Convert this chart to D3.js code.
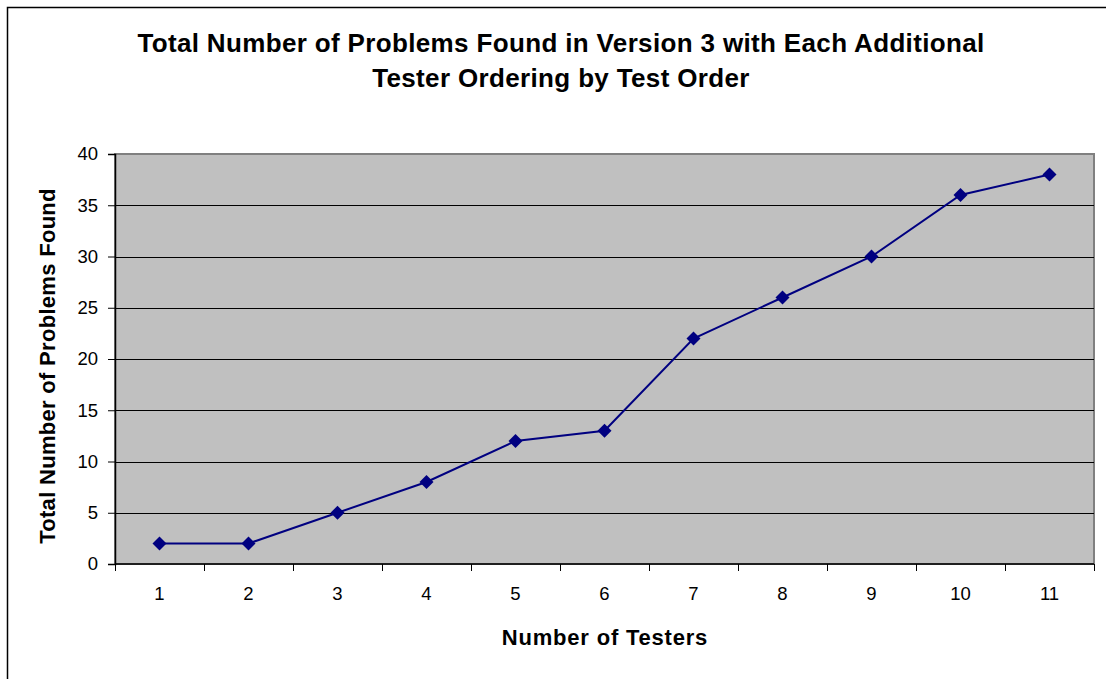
<!DOCTYPE html>
<html>
<head>
<meta charset="utf-8">
<script src="https://cdn.jsdelivr.net/npm/d3@7"></script>
<style>
  body { margin: 0; background: #fff; }
  svg { display: block; font-family: "Liberation Sans", Arial, sans-serif; }
</style>
</head>
<body>
<div class="chart"></div>
<script>
// Data
const testers = [1, 2, 3, 4, 5, 6, 7, 8, 9, 10, 11];
const problemsFound = [2, 2, 5, 8, 12, 13, 22, 26, 30, 36, 38];
const yTicks = [0, 5, 10, 15, 20, 25, 30, 35, 40];
const titleLines = ["Total Number of Problems Found in Version 3 with Each Additional", "Tester Ordering by Test Order"];

const width = 1106;
const height = 679;
const plot = {left: 115, right: 1094, top: 154, bottom: 564};

const data = testers.map((t, i) => ({tester: t, found: problemsFound[i]}));

const svg = d3.select(".chart")
  .append("svg")
    .attr("width", width)
    .attr("height", height);

// Outer chart border (right and bottom sides fall outside the picture)
svg.append("rect")
  .attr("x", 7.5)
  .attr("y", 7.5)
  .attr("width", width + 10)
  .attr("height", height + 10)
  .attr("fill", "#fff")
  .attr("stroke", "#000")
  .attr("stroke-width", 1.5);

// Scales
const x = d3.scaleBand()
  .domain(testers)
  .range([plot.left, plot.right])
  .padding(0);

const y = d3.scaleLinear()
  .domain([0, 40])
  .range([plot.bottom, plot.top]);

// Plot background
svg.append("rect")
  .attr("x", plot.left)
  .attr("y", plot.top)
  .attr("width", plot.right - plot.left)
  .attr("height", plot.bottom - plot.top)
  .attr("fill", "#c0c0c0")
  .attr("stroke", "#808080")
  .attr("stroke-width", 2);

// Horizontal gridlines
svg.append("g")
  .selectAll("line")
  .data(yTicks.filter(d => d > 0 && d < 40))
  .enter()
  .append("line")
    .attr("x1", plot.left)
    .attr("x2", plot.right)
    .attr("y1", d => Math.round(y(d)) + 0.5)
    .attr("y2", d => Math.round(y(d)) + 0.5)
    .attr("stroke", "#000")
    .attr("stroke-width", 1);

// Y axis
const yAxis = svg.append("g")
  .attr("transform", `translate(${plot.left}, 0)`)
  .call(d3.axisLeft(y).tickValues(yTicks).tickSize(7).tickPadding(10));

yAxis.select(".domain").attr("stroke", "#000").attr("stroke-width", 1.5);
yAxis.selectAll(".tick line").attr("stroke", "#000");
yAxis.selectAll(".tick text")
  .attr("font-size", 18.5)
  .attr("font-family", "Liberation Sans, Arial, sans-serif")
  .attr("fill", "#000");

// X axis: ticks sit between categories
const xAxis = svg.append("g")
  .attr("transform", `translate(0, ${plot.bottom})`);

xAxis.append("line")
  .attr("x1", plot.left)
  .attr("x2", plot.right)
  .attr("stroke", "#000")
  .attr("stroke-width", 1.5);

const boundaries = testers.map(t => x(t)).concat([x(testers[testers.length - 1]) + x.bandwidth()]);
xAxis.selectAll(".xtick")
  .data(boundaries)
  .enter()
  .append("line")
    .attr("class", "xtick")
    .attr("x1", d => Math.round(d) + 0.5)
    .attr("x2", d => Math.round(d) + 0.5)
    .attr("y1", 0)
    .attr("y2", 7)
    .attr("stroke", "#000");

xAxis.selectAll(".xlabel")
  .data(testers)
  .enter()
  .append("text")
    .attr("class", "xlabel")
    .attr("x", d => x(d) + x.bandwidth() / 2)
    .attr("y", 36)
    .attr("text-anchor", "middle")
    .attr("font-size", 18.5)
    .text(d => d);

// Line and markers
const line = d3.line()
  .x(d => x(d.tester) + x.bandwidth() / 2)
  .y(d => y(d.found));

svg.append("path")
  .datum(data)
  .attr("d", line)
  .attr("fill", "none")
  .attr("stroke", "#000080")
  .attr("stroke-width", 2);

svg.selectAll(".marker")
  .data(data)
  .enter()
  .append("path")
    .attr("class", "marker")
    .attr("d", d3.symbol(d3.symbolSquare, 98))
    .attr("transform", d => `translate(${x(d.tester) + x.bandwidth() / 2}, ${y(d.found)}) rotate(45)`)
    .attr("fill", "#000080");

// Title
svg.selectAll(".title")
  .data(titleLines)
  .enter()
  .append("text")
    .attr("class", "title")
    .attr("x", 561)
    .attr("y", (d, i) => 52 + i * 35)
    .attr("text-anchor", "middle")
    .attr("font-size", 26)
    .attr("font-weight", "bold")
    .attr("letter-spacing", 0.35)
    .text(d => d);

// Axis titles
svg.append("text")
  .attr("x", 605)
  .attr("y", 645)
  .attr("text-anchor", "middle")
  .attr("font-size", 22)
  .attr("font-weight", "bold")
  .attr("letter-spacing", 0.8)
  .text("Number of Testers");

svg.append("text")
  .attr("transform", "translate(55, 366) rotate(-90)")
  .attr("text-anchor", "middle")
  .attr("font-size", 22)
  .attr("font-weight", "bold")
  .attr("letter-spacing", 0.3)
  .text("Total Number of Problems Found");
</script>
</body>
</html>
